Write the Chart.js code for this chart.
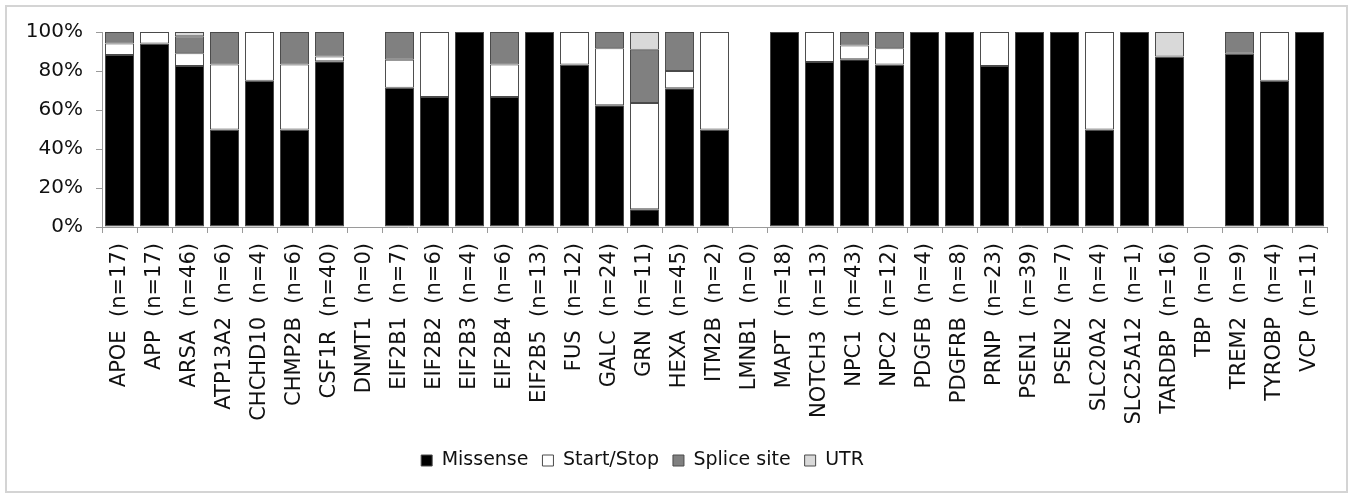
<!DOCTYPE html>
<html>
<head>
<meta charset="utf-8">
<script src="https://cdn.jsdelivr.net/npm/chart.js@4"></script>
<style>
  html, body { margin: 0; padding: 0; background: #fff; }
  #frame { position: absolute; left: 5px; top: 5px; width: 1339px; height: 484px; border: 2px solid #d4d4d4; }
  #wrap { position: absolute; left: 0; top: 0; width: 1351px; height: 494px; }
</style>
</head>
<body>
<div id="frame"></div>
<div id="wrap"><canvas id="myBarChart"></canvas></div>
<script>
// genes with number of variants
var genes = ['APOE', 'APP', 'ARSA', 'ATP13A2', 'CHCHD10', 'CHMP2B', 'CSF1R', 'DNMT1', 'EIF2B1', 'EIF2B2',
  'EIF2B3', 'EIF2B4', 'EIF2B5', 'FUS', 'GALC', 'GRN', 'HEXA', 'ITM2B', 'LMNB1', 'MAPT', 'NOTCH3',
  'NPC1', 'NPC2', 'PDGFB', 'PDGFRB', 'PRNP', 'PSEN1', 'PSEN2', 'SLC20A2', 'SLC25A12', 'TARDBP',
  'TBP', 'TREM2', 'TYROBP', 'VCP'];
// counts per variant type
var missense  = [15, 16, 38, 3, 3, 3, 34, 0, 5, 4, 4, 4, 13, 10, 15, 1, 32, 1, 0, 18, 11, 37, 10, 4, 8, 19, 39, 7, 2, 1, 14, 0, 8, 3, 11];
var startStop = [1, 1, 3, 2, 1, 2, 1, 0, 1, 2, 0, 1, 0, 2, 7, 6, 4, 1, 0, 0, 2, 3, 1, 0, 0, 4, 0, 0, 2, 0, 0, 0, 0, 1, 0];
var splice    = [1, 0, 4, 1, 0, 1, 5, 0, 1, 0, 0, 1, 0, 0, 2, 3, 9, 0, 0, 0, 0, 3, 1, 0, 0, 0, 0, 0, 0, 0, 0, 0, 1, 0, 0];
var utr       = [0, 0, 1, 0, 0, 0, 0, 0, 0, 0, 0, 0, 0, 0, 0, 1, 0, 0, 0, 0, 0, 0, 0, 0, 0, 0, 0, 0, 0, 0, 2, 0, 0, 0, 0];
var yTicks = [0, 20, 40, 60, 80, 100];

var totals = genes.map(function (g, i) {
  return missense[i] + startStop[i] + splice[i] + utr[i];
});
var labels = genes.map(function (g, i) {
  return g + '  (n=' + totals[i] + ')';
});
function pct(arr) {
  return arr.map(function (v, i) {
    return totals[i] ? v / totals[i] * 100 : 0;
  });
}

var barStyle = {
  borderColor: '#4a4a4a',
  borderWidth: 1,
  borderSkipped: false,
  barPercentage: 0.83,
  categoryPercentage: 1
};

var chartdata = {
  labels: labels,
  datasets: [
    Object.assign({ label: 'Missense', data: pct(missense), backgroundColor: '#000000' }, barStyle),
    Object.assign({ label: 'Start/Stop', data: pct(startStop), backgroundColor: '#ffffff' }, barStyle),
    Object.assign({ label: 'Splice site', data: pct(splice), backgroundColor: '#808080' }, barStyle),
    Object.assign({ label: 'UTR', data: pct(utr), backgroundColor: '#d9d9d9' }, barStyle)
  ]
};

// legend sits a bit left of the middle in the original
var legendShift = {
  id: 'legendShift',
  afterLayout: function (chart) {
    chart.legend.left -= 21;
    chart.legend.right -= 21;
  }
};

var font = 'DejaVu Sans';
var ctx = document.getElementById('myBarChart');
var barGraph = new Chart(ctx, {
  type: 'bar',
  data: chartdata,
  plugins: [legendShift],
  options: {
    responsive: true,
    maintainAspectRatio: false,
    animation: false,
    layout: { padding: { top: 32, right: 24, bottom: 14, left: 0 } },
    plugins: {
      tooltip: { enabled: false },
      legend: {
        position: 'bottom',
        labels: {
          color: '#111',
          font: { family: font, size: 19 },
          boxWidth: 11,
          boxHeight: 11,
          padding: 14
        }
      }
    },
    scales: {
      x: {
        stacked: true,
        offset: true,
        grid: { drawOnChartArea: false, offset: true, color: '#9a9a9a', tickLength: 6 },
        border: { color: '#9a9a9a' },
        ticks: {
          color: '#111',
          font: { family: font, size: 21 },
          minRotation: 90,
          maxRotation: 90,
          autoSkip: false,
          padding: 10
        },
        afterFit: function (scale) { scale.height = 210; }
      },
      y: {
        stacked: true,
        min: 0,
        max: 100,
        afterBuildTicks: function (scale) {
          scale.ticks = yTicks.map(function (v) { return { value: v }; });
        },
        grid: { drawOnChartArea: false, color: '#9a9a9a', tickLength: 6 },
        border: { color: '#9a9a9a' },
        ticks: {
          color: '#111',
          font: { family: font, size: 20 },
          padding: 13,
          callback: function (v) { return v + '%'; }
        },
        afterFit: function (scale) { scale.width = 102; }
      }
    }
  }
});
</script>
</body>
</html>
